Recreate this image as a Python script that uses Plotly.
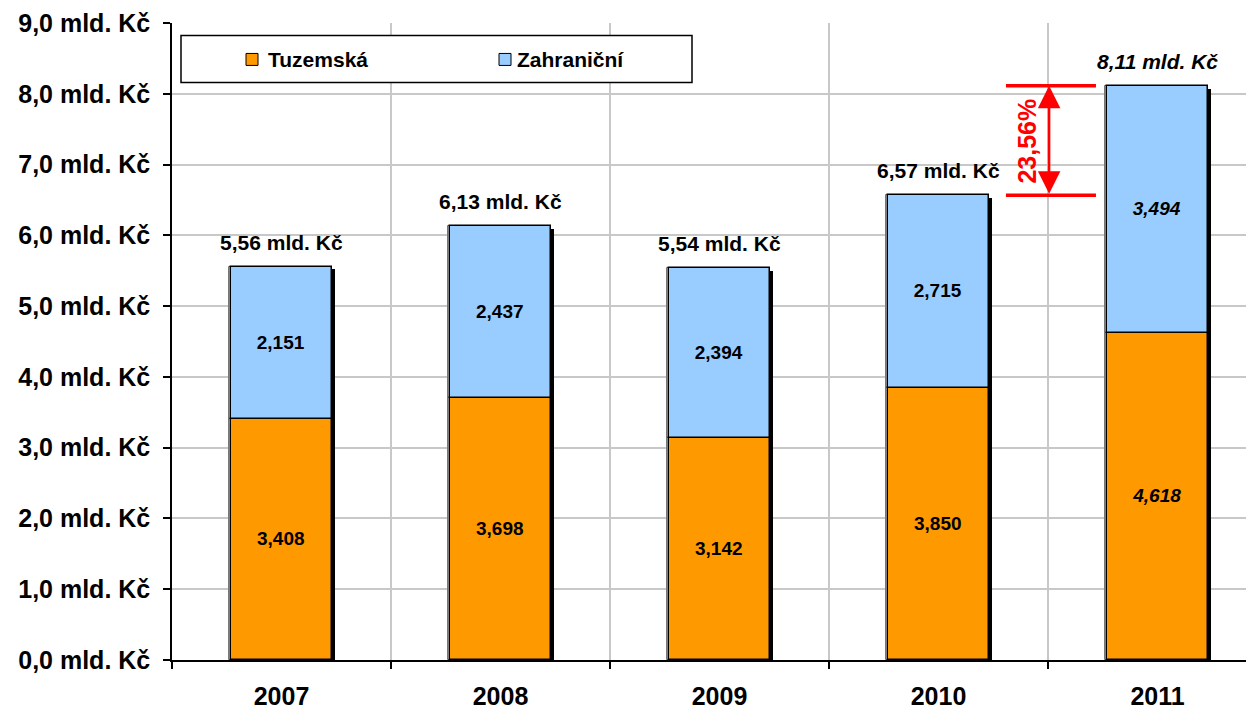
import plotly.graph_objects as go

years = ["2007", "2008", "2009", "2010", "2011"]
tuzemska = [3.408, 3.698, 3.142, 3.850, 4.618]
zahranicni = [2.151, 2.437, 2.394, 2.715, 3.494]
totals_text = ["5,56", "6,13", "5,54", "6,57", "8,11"]
growth_text = "23,56%"
y_ticks = [0, 1, 2, 3, 4, 5, 6, 7, 8, 9]
series_names = ["Tuzemská", "Zahraniční"]

ORANGE = "#FF9900"
BLUE = "#99CCFF"
RED = "#FF0000"
FONT = "Liberation Sans, Arial, sans-serif"

x = list(range(len(years)))
totals = [a + b for a, b in zip(tuzemska, zahranicni)]
BW = 0.46
OFF = -BW / 2
SH = 3.5 / 219  # shadow shift


def fmt(v, italic):
    s = f"{v:.3f}".replace(".", ",")
    return f"<i>{s}</i>" if italic else s


italic = [i == len(years) - 1 for i in x]

fig = go.Figure()
# shadow
fig.add_trace(go.Bar(x=x, y=[t - 0.04 for t in totals], base=0, width=BW, offset=OFF + SH,
                     marker=dict(color="black", line=dict(width=0)), hoverinfo="skip", showlegend=False))
# left edge gray strip (3D effect)
fig.add_trace(go.Bar(x=x, y=totals, base=0, width=BW, offset=OFF - 2.5 / 219,
                     marker=dict(color="white", line=dict(color="#777777", width=1)),
                     hoverinfo="skip", showlegend=False))
fig.add_trace(go.Bar(x=x, y=tuzemska, base=0, width=BW, offset=OFF, name=series_names[0],
                     marker=dict(color=ORANGE, line=dict(color="black", width=1.5)),
                     text=[fmt(v, it) for v, it in zip(tuzemska, italic)],
                     textposition="inside", insidetextanchor="middle", textangle=0,
                     textfont=dict(family=FONT, size=19, color="black", weight="bold"),
                     constraintext="none", showlegend=False))
fig.add_trace(go.Bar(x=x, y=zahranicni, base=tuzemska, width=BW, offset=OFF, name=series_names[1],
                     marker=dict(color=BLUE, line=dict(color="black", width=1.5)),
                     text=[fmt(v, it) for v, it in zip(zahranicni, italic)],
                     textposition="inside", insidetextanchor="middle", textangle=0,
                     textfont=dict(family=FONT, size=19, color="black", weight="bold"),
                     constraintext="none", showlegend=False))

annotations = []
for i, (t, lbl) in enumerate(zip(totals, totals_text)):
    txt = f"{lbl} mld. Kč"
    if italic[i]:
        txt = f"<i>{txt}</i>"
    annotations.append(dict(x=i, y=t, xref="x", yref="y", text=txt, showarrow=False,
                            yanchor="bottom", yshift=11,
                            font=dict(family=FONT, size=21, color="black", weight="bold")))

# growth annotation between 2010 and 2011
xa = 3.505
annotations.append(dict(x=xa, y=totals[4], xref="x", yref="y", ax=xa, ay=totals[3],
                        axref="x", ayref="y", text="", showarrow=True, arrowside="end+start",
                        arrowhead=2, arrowsize=1.8, arrowwidth=2.5, arrowcolor=RED, standoff=0,
                        startstandoff=0))
annotations.append(dict(x=3.404, y=(totals[3] + totals[4]) / 2, xref="x", yref="y",
                        text=growth_text, textangle=-90, showarrow=False,
                        font=dict(family=FONT, size=25, color=RED, weight="bold")))

shapes = []
for t in (totals[3], totals[4]):
    shapes.append(dict(type="line", xref="x", yref="y", x0=3.308, x1=3.719, y0=t, y1=t,
                       line=dict(color=RED, width=3.5)))

# page body has an 8px margin; figure is laid out so the plot lands at screen px
PAGE = 8
FW, FH = 1254 - PAGE, 709 - PAGE
L, T, H = 172 - PAGE, 22.5 - PAGE, 638
W = FW - L
px = lambda p: (p - PAGE - L) / W
py = lambda p: (T + H - (p - PAGE)) / H
# manual legend (screen px -> paper)
shapes.append(dict(type="rect", xref="paper", yref="paper", x0=px(181), x1=px(692),
                   y0=py(82), y1=py(35), line=dict(color="black", width=1.5),
                   fillcolor="white", layer="above"))
for sx, col, name, tx in ((246, ORANGE, series_names[0], 266), (499, BLUE, series_names[1], 515)):
    shapes.append(dict(type="rect", xref="paper", yref="paper", x0=px(sx), x1=px(sx + 12),
                       y0=py(65), y1=py(53), line=dict(color="black", width=1),
                       fillcolor=col, layer="above"))
    annotations.append(dict(x=px(tx), y=py(59), xref="paper", yref="paper", text=name,
                            showarrow=False, xanchor="left", yanchor="middle",
                            font=dict(family=FONT, size=21, color="black", weight="bold")))

fig.update_layout(
    width=FW, height=FH,
    margin=dict(l=L, r=0, t=T, b=FH - T - H, autoexpand=False),
    paper_bgcolor="white", plot_bgcolor="white",
    barmode="overlay", bargap=0,
    showlegend=False,
    annotations=annotations, shapes=shapes,
    xaxis=dict(range=[-0.5, -0.5 + W / 219], tickmode="array", tickvals=x, ticktext=years,
               ticks="", showgrid=False, showline=True, linecolor="black", linewidth=1.5,
               tickfont=dict(family=FONT, size=25, color="black", weight="bold"),
               ticklabelstandoff=13, zeroline=False, automargin=False,
               minor=dict(tickmode="array", tickvals=[i - 0.5 for i in range(len(years) + 1)],
                          ticks="outside", ticklen=7, tickcolor="black", tickwidth=1.5,
                          showgrid=True, gridcolor="#C8C8C8", gridwidth=1.5)),
    yaxis=dict(range=[0, 9], tickmode="array", tickvals=y_ticks,
               ticktext=[f"{v},0 mld. Kč" for v in y_ticks],
               ticks="outside", ticklen=7, tickcolor="black", tickwidth=1.5,
               showgrid=True, gridcolor="#C8C8C8", gridwidth=1.5,
               showline=True, linecolor="black", linewidth=1.5, zeroline=False,
               automargin=False,
               tickfont=dict(family=FONT, size=25, color="black", weight="bold"),
               ticklabelstandoff=8),
)

fig.write_html("out.html")
